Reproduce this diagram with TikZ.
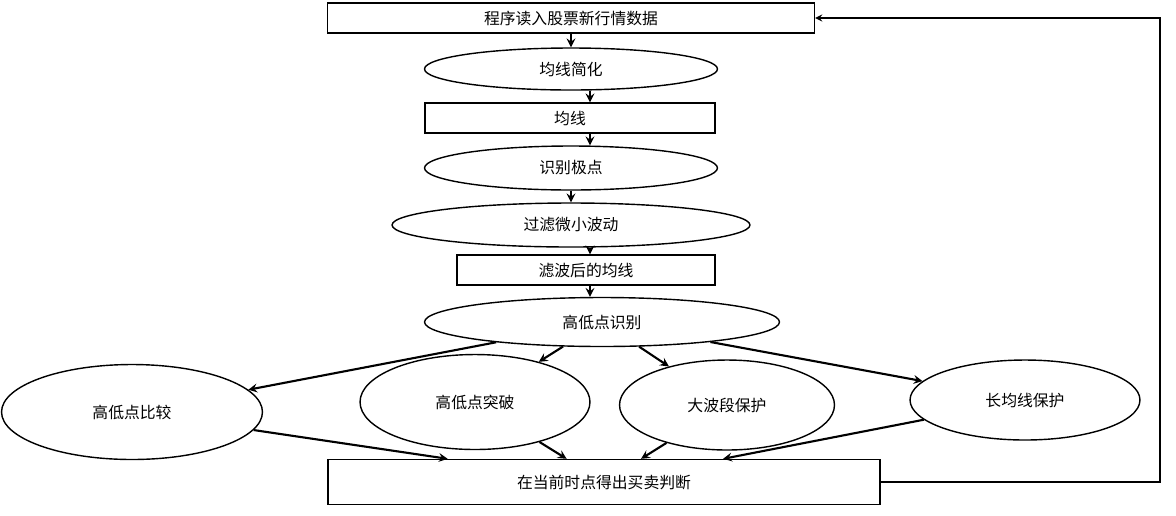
\documentclass[tikz,border=0pt]{standalone}
\usepackage{fontspec}
\setmainfont{Noto Sans CJK SC}
\usetikzlibrary{shapes.geometric}
\tikzset{
	stepbox/.style={draw, thick, minimum height=0.6cm, font=\small},
	stepell/.style={draw, thick, ellipse, font=\small},
	flow/.style={->, >=stealth, very thick}
}
\begin{document}
\begin{tikzpicture}[x=0.02cm, y=-0.02cm]
	\useasboundingbox (0,0) rectangle (1176,515);
	
	\node[stepbox, minimum width=9.74cm] (read) at (571,18) {程序读入股票新行情数据};
	\node[stepell, minimum width=5.86cm, minimum height=0.84cm] (simp) at (571,69) {均线简化};
	\node[stepbox, minimum width=5.8cm] (ma) at (570,118) {均线};
	\node[stepell, minimum width=5.86cm, minimum height=0.88cm] (ext) at (571,168) {识别极点};
	\node[stepell, minimum width=7.16cm, minimum height=0.88cm] (filt) at (571,225) {过滤微小波动};
	\node[stepbox, minimum width=5.16cm] (fma) at (586,270) {滤波后的均线};
	\node[stepell, minimum width=7.1cm, minimum height=0.98cm] (hl) at (602,322) {高低点识别};
	
	\node[stepell, minimum width=5.22cm, minimum height=1.9cm] (cmp) at (132,412) {高低点比较};
	\node[stepell, minimum width=4.6cm, minimum height=1.9cm] (brk) at (475,402) {高低点突破};
	\node[stepell, minimum width=4.3cm, minimum height=1.8cm] (big) at (727,405) {大波段保护};
	\node[stepell, minimum width=4.6cm, minimum height=1.6cm] (lng) at (1025,400) {长均线保护};
	
	\node[stepbox, minimum width=11.04cm, minimum height=0.9cm] (dec) at (604,482) {在当前时点得出买卖判断};
	
	\draw[flow] (read) -- (simp);
	\draw[flow] (simp.south -| 590,0) -- (ma.north -| 590,0);
	\draw[flow] (ma.south -| 590,0) -- (ext.north -| 590,0);
	\draw[flow] (ext) -- (filt);
	\draw[flow] (filt.south -| 590,0) -- (fma.north -| 590,0);
	\draw[flow] (fma.south -| 590,0) -- (hl.north -| 590,0);
	
	\draw[flow] (hl) -- (cmp);
	\draw[flow] (hl) -- (brk);
	\draw[flow] (hl) -- (big);
	\draw[flow] (hl) -- (lng);
	
	\draw[flow] (cmp) -- (dec);
	\draw[flow] (brk) -- (dec);
	\draw[flow] (big) -- (dec);
	\draw[flow] (lng) -- (dec);
	
	\coordinate (back) at (1160,482);
	\draw[flow, thick] (dec.east) -- (back) |- (read.east);
\end{tikzpicture}
\end{document}
